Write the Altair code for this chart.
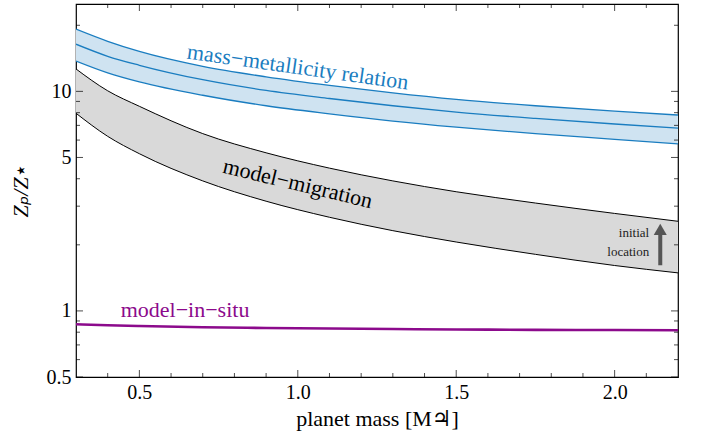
import altair as alt
import pandas as pd

# ---- data ----
mass = [0.3, 0.4, 0.5, 0.7, 0.9, 1.1, 1.3, 1.5, 1.75, 2.0, 2.2]
mmr_upper = [19.2, 16.9, 15.2, 13.0, 11.65, 10.65, 9.85, 9.2, 8.6, 8.12, 7.8]
mmr_mid = [16.4, 14.45, 13.15, 11.3, 10.1, 9.28, 8.6, 8.05, 7.53, 7.1, 6.8]
mmr_lower = [13.75, 12.15, 11.05, 9.6, 8.6, 7.9, 7.32, 6.87, 6.42, 6.05, 5.77]
mig_upper = [12.65, 10.06, 8.55, 6.42, 5.25, 4.47, 3.91, 3.49, 3.1, 2.78, 2.56]
mig_lower = [7.95, 6.24, 5.2, 3.91, 3.16, 2.67, 2.32, 2.06, 1.81, 1.61, 1.49]
insitu = [0.87, 0.86, 0.853, 0.843, 0.836, 0.831, 0.827, 0.823, 0.82, 0.818, 0.816]

x_labels = [0.5, 1.0, 1.5, 2.0]
x_minor = [0.4, 0.6, 0.7, 0.8, 0.9, 1.1, 1.2, 1.3, 1.4, 1.6, 1.7, 1.8, 1.9, 2.1]
y_labels = [0.5, 1, 5, 10]
y_minor = [0.6, 0.7, 0.8, 0.9, 2, 3, 4, 6, 7, 8, 9, 20]

x_domain = [0.3, 2.2]
y_domain = [0.5, 25]

# annotation anchors (data coordinates)
lab_mmr = {"text": "mass\u2212metallicity relation", "x": 1.0, "y": 12.9}
lab_mig = {"text": "model\u2212migration", "x": 1.0, "y": 3.8}
lab_insitu = {"text": "model\u2212in\u2212situ", "x": 0.441, "y": 0.94}
lab_initial = [{"text": "initial", "x": 2.109, "y": 2.16},
               {"text": "location", "x": 2.109, "y": 1.77}]
arrow_x = 2.144
arrow_shaft = [1.614, 2.22]
arrow_head = 2.35

FONT = "Liberation Serif, DejaVu Sans"
BLUE = "#1a7dc0"
BLUE_FILL = "#cfe3f1"
GREY_FILL = "#d9d9d9"
PURPLE = "#8c0a8c"

df = pd.DataFrame({
    "mass": mass, "mmr_up": mmr_upper, "mmr_mid": mmr_mid, "mmr_lo": mmr_lower,
    "mig_up": mig_upper, "mig_lo": mig_lower, "insitu": insitu,
})

xscale = alt.Scale(domain=x_domain, nice=False, zero=False)
yscale = alt.Scale(type="log", domain=y_domain, nice=False)

xaxis = alt.Axis(title="planet mass [M\u2643]", values=x_labels, format=".1f",
                 ticks=False, grid=False, domain=False, labelFlush=False,
                 labelFont=FONT, labelFontSize=20, labelPadding=5, labelColor="black",
                 titleFont=FONT, titleFontSize=22, titleFontWeight="normal", titleColor="black",
                 titleX=301, titleY=48, titleBaseline="alphabetic", titleAlign="center")
yaxis = alt.Axis(title="Z\u209a/Z\u22c6", values=y_labels, format="~g",
                 ticks=False, grid=False, domain=False, labelFlush=False, labelOverlap=False,
                 labelFont=FONT, labelFontSize=20, labelPadding=5, labelColor="black",
                 titleFont=FONT, titleFontSize=22, titleFontWeight="normal", titleColor="black",
                 titleFontStyle="italic", titleAngle=270, titleX=-56, titleY=186,
                 titleBaseline="middle", titleAlign="center")

X = lambda f: alt.X(f, type="quantitative", scale=xscale, axis=xaxis)
Y = lambda f: alt.Y(f, type="quantitative", scale=yscale, axis=yaxis)

base = alt.Chart(df)

mmr_band = base.mark_area(color=BLUE_FILL, interpolate="monotone", clip=True).encode(
    x=X("mass"), y=Y("mmr_lo"), y2="mmr_up")
mmr_lines = [base.mark_line(color=BLUE, strokeWidth=1.3, interpolate="monotone", clip=True).encode(
    x=X("mass"), y=Y(f)) for f in ["mmr_up", "mmr_mid", "mmr_lo"]]
mig_band = base.mark_area(color=GREY_FILL, interpolate="monotone", clip=True).encode(
    x=X("mass"), y=Y("mig_lo"), y2="mig_up")
mig_lines = [base.mark_line(color="black", strokeWidth=1, interpolate="monotone", clip=True).encode(
    x=X("mass"), y=Y(f)) for f in ["mig_up", "mig_lo"]]
insitu_line = base.mark_line(color=PURPLE, strokeWidth=2.6, interpolate="monotone", clip=True).encode(
    x=X("mass"), y=Y("insitu"))

def text_layer(d, color, size, angle=0, align="center", baseline="middle"):
    return alt.Chart(pd.DataFrame([d])).mark_text(
        font=FONT, fontSize=size, color=color, angle=angle, align=align, baseline=baseline
    ).encode(x=X("x"), y=Y("y"), text="text:N")

t_mmr = text_layer(lab_mmr, BLUE, 22, angle=8)
t_mig = text_layer(lab_mig, "black", 22, angle=13.5)
t_insitu = text_layer(lab_insitu, PURPLE, 22, align="left", baseline="alphabetic")
t_init = alt.Chart(pd.DataFrame(lab_initial)).mark_text(
    font=FONT, fontSize=13, color="#222222", align="right", baseline="alphabetic"
).encode(x=X("x"), y=Y("y"), text="text:N")

shaft = alt.Chart(pd.DataFrame({"x": [arrow_x], "y0": [arrow_shaft[0]], "y1": [arrow_shaft[1]]})).mark_rule(
    color="#555555", strokeWidth=4).encode(x=X("x"), y=Y("y0"), y2="y1")
head = alt.Chart(pd.DataFrame({"x": [arrow_x], "y": [arrow_head]})).mark_point(
    shape="triangle-up", filled=True, size=170, color="#555555", opacity=1).encode(x=X("x"), y=Y("y"))

# inward ticks on all four sides
def xticks(vals, length, ypos, sign):
    return alt.Chart(pd.DataFrame({"v": vals})).mark_tick(
        orient="vertical", size=length, thickness=1, color="black", yOffset=sign * length / 2
    ).encode(x=X("v"), y=alt.Y(datum=ypos, type="quantitative", scale=yscale, axis=yaxis))

def yticks(vals, length, xpos, sign):
    return alt.Chart(pd.DataFrame({"v": vals})).mark_tick(
        orient="horizontal", size=length, thickness=1, color="black", xOffset=sign * length / 2
    ).encode(y=Y("v"), x=alt.X(datum=xpos, type="quantitative", scale=xscale, axis=xaxis))

tick_layers = [
    xticks(x_labels, 7, y_domain[0], -1), xticks(x_minor, 4, y_domain[0], -1),
    xticks(x_labels, 7, y_domain[1], 1), xticks(x_minor, 4, y_domain[1], 1),
    yticks(y_labels, 7, x_domain[0], 1), yticks(y_minor, 4, x_domain[0], 1),
    yticks(y_labels, 7, x_domain[1], -1), yticks(y_minor, 4, x_domain[1], -1),
]

chart = alt.layer(
    mmr_band, *mmr_lines, mig_band, *mig_lines, insitu_line,
    t_mmr, t_mig, t_insitu, t_init, shaft, head, *tick_layers
).properties(
    width=602, height=373,
    autosize=alt.AutoSizeParams(type="none"),
    padding={"left": 76, "top": 4, "right": 25, "bottom": 62},
).configure_view(stroke="black", strokeWidth=1.2)

chart.save("out.html", embed_options={"renderer": "svg", "actions": False})
